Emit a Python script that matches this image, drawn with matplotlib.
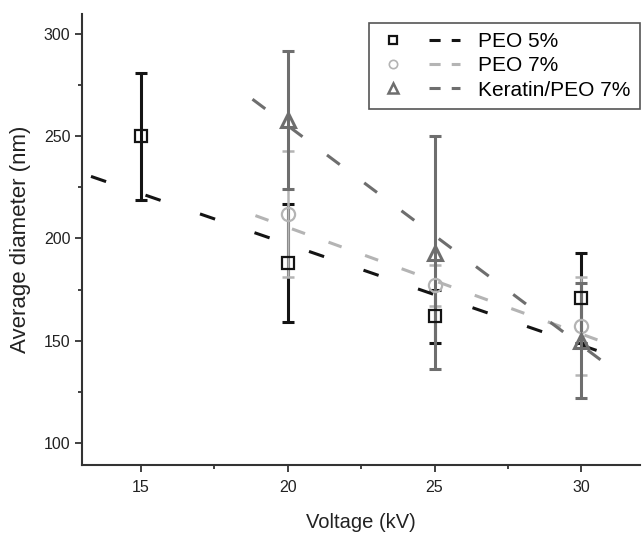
import matplotlib
matplotlib.use("Agg")
import matplotlib.pyplot as plt
from matplotlib.lines import Line2D
from matplotlib.legend_handler import HandlerTuple

plt.rcParams["font.family"] = ["Liberation Sans", "DejaVu Sans"]
plt.rcParams["lines.scale_dashes"] = False

# data
voltage_peo5 = [15, 20, 25, 30]
diam_peo5 = [250, 188, 162, 171]
err_peo5 = [31, 29, 13, 22]

voltage_peo7 = [20, 25, 30]
diam_peo7 = [212, 177, 157]
err_peo7 = [31, 10, 24]

voltage_ker = [20, 25, 30]
diam_ker = [258, 193, 150]
err_ker = [34, 57, 28]

# dashed trend lines (end points)
fit_peo5_x = [13.3, 31.0]
fit_peo5_y = [230.4, 142.8]
fit_peo7_x = [18.9, 30.9]
fit_peo7_y = [211.2, 148.5]
fit_ker_x = [18.8, 30.8]
fit_ker_y = [268.2, 139.0]

labels = ["PEO 5%", "PEO 7%", "Keratin/PEO 7%"]
c_peo5 = "#141414"
c_peo7 = "#b4b4b4"
c_ker = "#6e6e6e"

dash_peo5 = (0, (11.5, 30))
dash_peo7 = (0, (10, 18))
dash_ker = (0, (11.5, 22))


def main():
    fig = plt.figure(figsize=(6.42, 5.34), dpi=100)
    ax = fig.add_axes([0.128, 0.129, 0.869, 0.845])

    # trend lines
    ax.plot(fit_peo5_x, fit_peo5_y, color=c_peo5, lw=2.2, linestyle=dash_peo5, zorder=2)
    ax.plot(fit_peo7_x, fit_peo7_y, color=c_peo7, lw=2.2, linestyle=dash_peo7, zorder=2)
    ax.plot(fit_ker_x, fit_ker_y, color=c_ker, lw=2.2, linestyle=dash_ker, zorder=2)

    # error bars
    ax.errorbar(voltage_peo5, diam_peo5, yerr=err_peo5, fmt="none", ecolor=c_peo5,
                elinewidth=2.2, capsize=4, capthick=2.2, zorder=3)
    ax.errorbar(voltage_peo7, diam_peo7, yerr=err_peo7, fmt="none", ecolor=c_peo7,
                elinewidth=1.8, capsize=4, capthick=1.8, zorder=4)
    ax.errorbar(voltage_ker, diam_ker, yerr=err_ker, fmt="none", ecolor=c_ker,
                elinewidth=2.2, capsize=4, capthick=2.2, zorder=5)

    # markers
    ax.plot(voltage_peo5, diam_peo5, "s", ms=8, mfc="none", mec=c_peo5, mew=1.6, zorder=6)
    ax.plot(voltage_peo7, diam_peo7, "o", ms=9.5, mfc="none", mec=c_peo7, mew=1.6, zorder=6)
    ax.plot(voltage_ker, diam_ker, "^", ms=10, mfc="none", mec=c_ker, mew=2.2, zorder=6)

    ax.set_xlim(13.0, 32.0)
    ax.set_ylim(89, 310)
    ax.set_xticks([15, 20, 25, 30])
    ax.set_xticks([17.5, 22.5, 27.5], minor=True)
    ax.set_yticks([100, 150, 200, 250, 300])
    ax.set_yticks([125, 175, 225, 275], minor=True)

    for side in ["top", "right"]:
        ax.spines[side].set_visible(False)
    for side in ["left", "bottom"]:
        ax.spines[side].set_linewidth(1.5)
        ax.spines[side].set_color("#333333")
    ax.tick_params(which="major", direction="out", length=5, width=1.3, labelsize=11.5,
                   colors="#333333", labelcolor="#222222")
    ax.tick_params(which="minor", direction="out", length=3, width=1.3, colors="#333333")
    ax.tick_params(axis="x", which="major", pad=6)

    ax.set_xlabel("Voltage (kV)", fontsize=14.5, labelpad=13, color="#222222")
    ax.set_ylabel("Average diameter (nm)", fontsize=16, labelpad=9, color="#222222")

    # legend: marker followed by dashes
    handles = [
        (Line2D([], [], ls="none", marker="s", ms=5.5, mfc="none", mec=c_peo5, mew=1.6),
         Line2D([], [], color=c_peo5, lw=2.2, linestyle=(0, (8, 8)))),
        (Line2D([], [], ls="none", marker="o", ms=6, mfc="none", mec=c_peo7, mew=1.2),
         Line2D([], [], color=c_peo7, lw=2.2, linestyle=(0, (8, 8)))),
        (Line2D([], [], ls="none", marker="^", ms=6.5, mfc="none", mec=c_ker, mew=1.8),
         Line2D([], [], color=c_ker, lw=2.2, linestyle=(0, (8, 8)))),
    ]
    leg = ax.legend(handles, labels, handler_map={tuple: HandlerTuple(ndivide=None, pad=1.0)},
                    loc="upper right", bbox_to_anchor=(1.0, 0.98), borderaxespad=0,
                    fontsize=15, handlelength=3.9, handletextpad=0.9, labelspacing=0.25,
                    borderpad=0.45, fancybox=False, framealpha=1)
    leg.get_frame().set_edgecolor("#555555")
    leg.get_frame().set_linewidth(1.2)

    fig.savefig("out.png", dpi=100)


if __name__ == "__main__":
    main()
